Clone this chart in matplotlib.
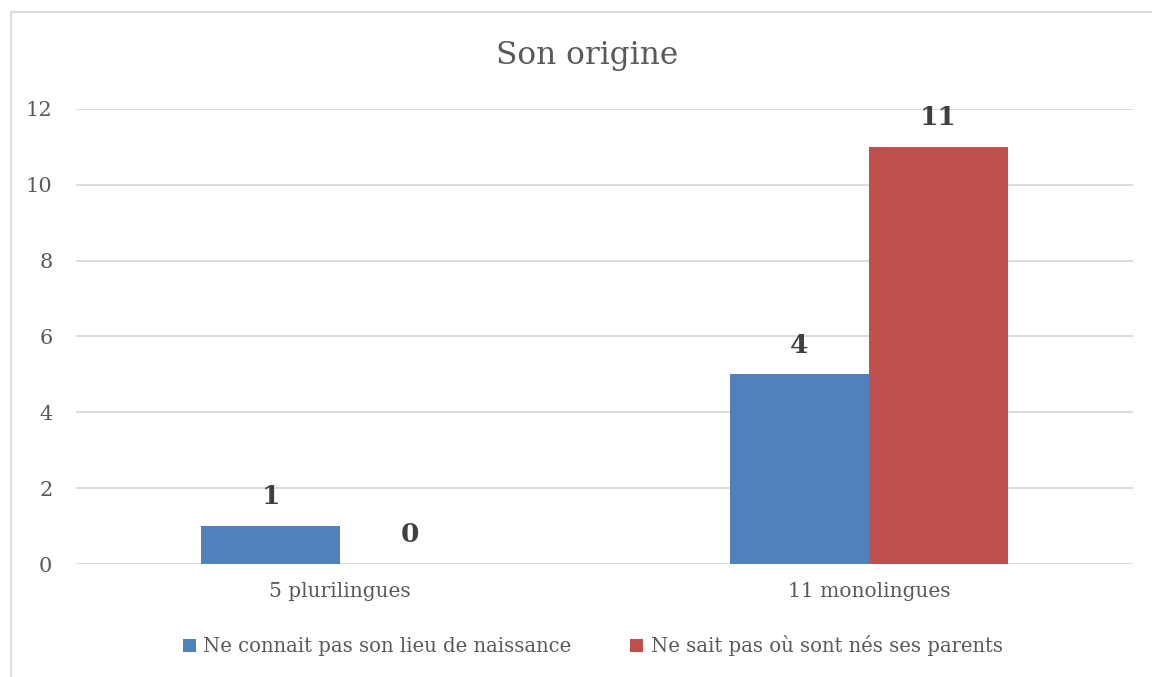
import matplotlib.pyplot as plt
import numpy as np
from matplotlib.patches import Rectangle

categories = ["5 plurilingues", "11 monolingues"]
series_names = ["Ne connait pas son lieu de naissance", "Ne sait pas où sont nés ses parents"]
lieu_values = [1, 5]
parents_values = [0, 11]
# labels as printed on the chart
lieu_labels = ["1", "4"]
parents_labels = ["0", "11"]
yticks = [0, 2, 4, 6, 8, 10, 12]

plt.rcParams['font.family'] = ['DejaVu Serif']
TXT = '#595959'

fig = plt.figure(figsize=(11.52, 6.77), dpi=100)
ax = fig.add_axes([0.066, 0.1669, 0.9175, 0.6722])

x = np.arange(len(categories))
w = 0.263
b1 = ax.bar(x - w / 2, lieu_values, w, color='#4f81bd', label=series_names[0], zorder=3)
b2 = ax.bar(x + w / 2, parents_values, w, color='#c0504d', label=series_names[1], zorder=3)

for bars, labs in ((b1, lieu_labels), (b2, parents_labels)):
    for r, lab in zip(bars, labs):
        ax.annotate(lab, (r.get_x() + r.get_width() / 2, r.get_height()),
                    xytext=(0, 12), textcoords='offset points', ha='center', va='bottom',
                    fontsize=19, fontweight='bold', color='#404040')

ax.set_xlim(-0.5, 1.5)
ax.set_ylim(0, 12)
ax.set_yticks(yticks)
ax.set_xticks(x)
ax.set_xticklabels(categories)
ax.tick_params(axis='both', length=0, colors=TXT)
ax.tick_params(axis='y', pad=17, labelsize=15)
ax.tick_params(axis='x', pad=13, labelsize=14.5)
ax.grid(axis='y', color='#d9d9d9', linewidth=1.3, zorder=0)
for s in ax.spines.values():
    s.set_visible(False)

fig.text(0.5096, 0.918, "Son origine", ha='center', va='center', fontsize=22.5, color=TXT)

leg = ax.legend(loc='center', bbox_to_anchor=(0.489, -0.18), ncol=2, frameon=False,
                fontsize=14.1, handlelength=0.65, handleheight=0.65, handletextpad=0.4,
                columnspacing=3.0)
for t in leg.get_texts():
    t.set_color(TXT)

# chart border
fig.patches.append(Rectangle((11 / 1152, -0.05), 1.2, 1 - 12 / 677 + 0.05,
                             transform=fig.transFigure, fill=False,
                             edgecolor='#d9d9d9', linewidth=1.3))

fig.savefig('out.png', dpi=100)
